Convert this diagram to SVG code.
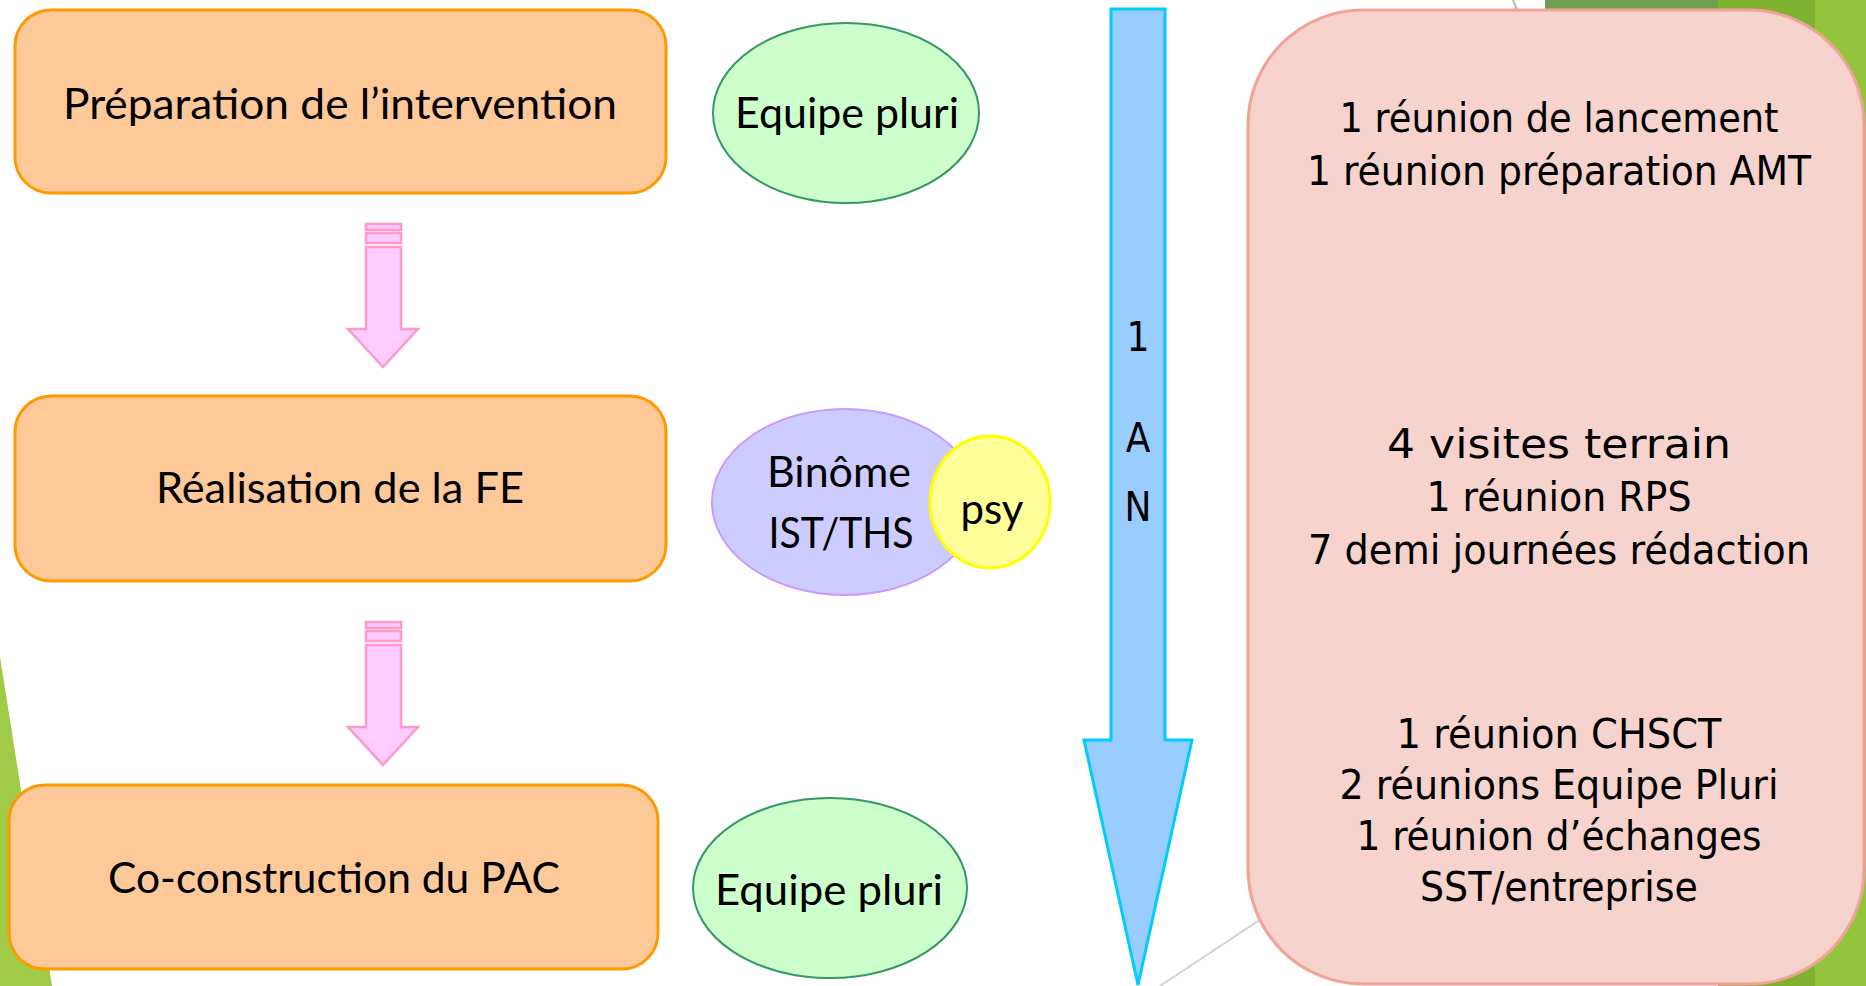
<svg xmlns="http://www.w3.org/2000/svg" width="1866" height="986" viewBox="0 0 1866 986">
<style>
.step{fill:#FEC999;stroke:#FF9900;stroke-width:3}
.steptxt{font-family:Lato,"Liberation Sans",sans-serif;font-size:43px;fill:#000;text-anchor:middle}
.eq{fill:#CCFFCC;stroke:#339966;stroke-width:2}
.bin{fill:#CCCCFF;stroke:#CC99FF;stroke-width:2}
.psy{fill:#FFFF99;stroke:#FFFF00;stroke-width:3}
.pink{fill:#FFCCFF;stroke:#FF99CC;stroke-width:2.5}
.rtxt{font-family:"DejaVu Sans Condensed","DejaVu Sans",sans-serif;font-size:40px;fill:#000;text-anchor:middle}
</style>
<rect width="1866" height="986" fill="#FFFFFF"/>
<g id="background">
<polygon points="0,657 52,986 0,986" fill="#9FCB47"/>
<rect x="1545" y="0" width="175" height="40" fill="#6F9E50"/>
<rect x="1718" y="0" width="100" height="986" fill="#80B130"/>
<rect x="1815" y="0" width="51" height="986" fill="#94C43C"/>
<line x1="1160" y1="986" x2="1320" y2="880" stroke="#D3D3D3" stroke-width="2"/>
<line x1="1513" y1="0" x2="1519" y2="14" stroke="#BDBDBD" stroke-width="2"/>
</g>
<g id="connectors">
<g id="arrow1">
<rect class="pink" x="366" y="224" width="35" height="6"/>
<rect class="pink" x="366" y="233" width="35" height="10"/>
<polygon class="pink" points="366,247 401,247 401,329 418,329 383,367 348,329 366,329"/>
</g>
<g id="arrow2">
<rect class="pink" x="366" y="622" width="35" height="6"/>
<rect class="pink" x="366" y="631" width="35" height="10"/>
<polygon class="pink" points="366,645 401,645 401,727 418,727 383,765 348,727 366,727"/>
</g>
</g>
<g id="timeline">
<polygon points="1111,9 1165,9 1165,740 1192,740 1138,985 1084,740 1111,740" fill="#99CCFF" stroke="#00CCFF" stroke-width="3"/>
<text class="rtxt" x="1138" y="351" font-size="42">1</text>
<text class="rtxt" x="1138" y="452" font-size="42">A</text>
<text class="rtxt" x="1138" y="521" font-size="42">N</text>
</g>
<g id="step1">
<rect class="step" x="15" y="10" width="651" height="183" rx="36"/>
<text class="steptxt" x="340" y="119" textLength="554" lengthAdjust="spacingAndGlyphs">Préparation de l’intervention</text>
</g>
<g id="step2">
<rect class="step" x="15" y="396" width="651" height="185" rx="36"/>
<text class="steptxt" x="340" y="503" textLength="368" lengthAdjust="spacingAndGlyphs">Réalisation de la FE</text>
</g>
<g id="step3">
<rect class="step" x="9" y="785" width="649" height="184" rx="36"/>
<text class="steptxt" x="334" y="893" textLength="452" lengthAdjust="spacingAndGlyphs">Co-construction du PAC</text>
</g>
<g id="team1">
<ellipse class="eq" cx="846" cy="113" rx="133" ry="90"/>
<text class="steptxt" x="847" y="128" textLength="224" lengthAdjust="spacingAndGlyphs">Equipe pluri</text>
</g>
<g id="team2">
<ellipse class="bin" cx="845" cy="502" rx="133" ry="93"/>
<ellipse class="psy" cx="990" cy="502" rx="60" ry="66"/>
<text class="steptxt" x="839" y="487" textLength="144" lengthAdjust="spacingAndGlyphs">Binôme</text>
<text class="steptxt" x="841" y="548" textLength="145" lengthAdjust="spacingAndGlyphs">IST/THS</text>
<text class="steptxt" x="992" y="524" textLength="63" lengthAdjust="spacingAndGlyphs">psy</text>
</g>
<g id="team3">
<ellipse class="eq" cx="830" cy="888" rx="137" ry="90"/>
<text class="steptxt" x="829" y="905" textLength="228" lengthAdjust="spacingAndGlyphs">Equipe pluri</text>
</g>
<g id="details">
<rect x="1248" y="10" width="616" height="974" rx="115" fill="#F7D3CE" stroke="#F2A398" stroke-width="3"/>
<text class="rtxt" x="1559" y="132" textLength="439" lengthAdjust="spacingAndGlyphs">1 réunion de lancement</text>
<text class="rtxt" x="1559" y="185" textLength="504" lengthAdjust="spacingAndGlyphs">1 réunion préparation AMT</text>
<text class="rtxt" x="1559" y="458" textLength="344" lengthAdjust="spacingAndGlyphs">4 visites terrain</text>
<text class="rtxt" x="1559" y="511" textLength="265" lengthAdjust="spacingAndGlyphs">1 réunion RPS</text>
<text class="rtxt" x="1559" y="564" textLength="502" lengthAdjust="spacingAndGlyphs">7 demi journées rédaction</text>
<text class="rtxt" x="1559" y="748" textLength="325" lengthAdjust="spacingAndGlyphs">1 réunion CHSCT</text>
<text class="rtxt" x="1559" y="799" textLength="439" lengthAdjust="spacingAndGlyphs">2 réunions Equipe Pluri</text>
<text class="rtxt" x="1559" y="850" textLength="405" lengthAdjust="spacingAndGlyphs">1 réunion d’échanges</text>
<text class="rtxt" x="1559" y="901" textLength="278" lengthAdjust="spacingAndGlyphs">SST/entreprise</text>
</g>
</svg>
